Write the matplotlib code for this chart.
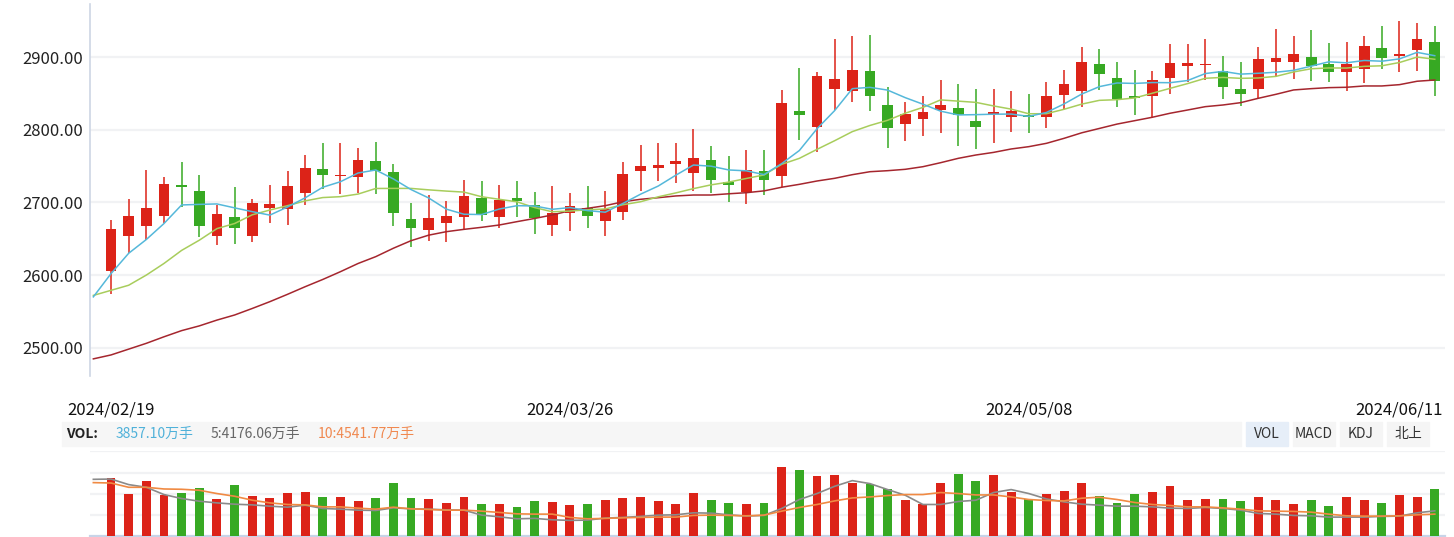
import matplotlib
matplotlib.use("Agg")
import matplotlib.pyplot as plt
from matplotlib.patches import Rectangle
from matplotlib.transforms import blended_transform_factory
import numpy as np

plt.rcParams['font.family'] = ['Noto Sans CJK SC', 'DejaVu Sans']

# daily candles, 2024/02/19 .. 2024/06/11
opens = [2606, 2654, 2667, 2681, 2724, 2716, 2654, 2680, 2654, 2693, 2691, 2713, 2746, 2736, 2735,
         2757, 2742, 2677, 2662, 2672, 2680, 2706, 2680, 2706, 2697, 2669, 2686, 2692, 2675, 2687,
         2744, 2748, 2753, 2741, 2758, 2728, 2714, 2743, 2737, 2826, 2804, 2857, 2854, 2881, 2834,
         2808, 2815, 2828, 2830, 2812, 2822, 2818, 2821, 2818, 2848, 2853, 2891, 2871, 2847, 2846,
         2872, 2888, 2890, 2881, 2856, 2857, 2894, 2894, 2900, 2891, 2880, 2884, 2913, 2902, 2910, 2921]
highs = [2676, 2705, 2745, 2735, 2756, 2738, 2697, 2721, 2705, 2724, 2743, 2765, 2782, 2782, 2775,
         2783, 2753, 2699, 2710, 2702, 2731, 2730, 2724, 2730, 2714, 2723, 2713, 2723, 2716, 2756,
         2779, 2782, 2782, 2801, 2778, 2764, 2772, 2772, 2855, 2885, 2880, 2925, 2929, 2931, 2859,
         2838, 2847, 2869, 2863, 2856, 2856, 2854, 2849, 2866, 2882, 2914, 2911, 2893, 2882, 2881,
         2918, 2918, 2925, 2902, 2893, 2914, 2939, 2929, 2938, 2920, 2921, 2929, 2943, 2950, 2947, 2943]
lows = [2574, 2630, 2648, 2672, 2694, 2653, 2641, 2643, 2645, 2672, 2669, 2697, 2718, 2712, 2713,
        2712, 2668, 2639, 2647, 2645, 2664, 2675, 2665, 2680, 2656, 2654, 2661, 2665, 2654, 2676,
        2716, 2729, 2727, 2716, 2713, 2700, 2698, 2711, 2721, 2786, 2770, 2828, 2839, 2826, 2775,
        2785, 2792, 2796, 2778, 2773, 2782, 2797, 2796, 2803, 2829, 2831, 2855, 2832, 2820, 2817,
        2850, 2866, 2869, 2843, 2833, 2844, 2873, 2870, 2868, 2866, 2853, 2864, 2884, 2880, 2881, 2846]
closes = [2663, 2681, 2692, 2725, 2722, 2667, 2684, 2665, 2699, 2698, 2723, 2747, 2738, 2737, 2758,
          2744, 2685, 2665, 2679, 2681, 2709, 2683, 2703, 2702, 2679, 2686, 2695, 2682, 2691, 2739,
          2750, 2751, 2757, 2761, 2731, 2724, 2745, 2731, 2837, 2821, 2874, 2870, 2882, 2846, 2802,
          2822, 2825, 2834, 2820, 2804, 2825, 2826, 2818, 2847, 2863, 2893, 2877, 2843, 2844, 2869,
          2892, 2892, 2891, 2859, 2850, 2898, 2899, 2904, 2888, 2880, 2891, 2915, 2899, 2904, 2925, 2868]

# average lines start one session before the first candle
ma5 = [2570, 2602, 2630, 2649, 2671,
       2696.6, 2697.4, 2698.0, 2692.6, 2687.4, 2682.6, 2693.8, 2706.4, 2721.0, 2728.6,
       2740.6, 2744.8, 2732.4, 2717.8, 2706.2, 2690.8, 2683.8, 2683.4, 2691.0, 2695.6,
       2695.2, 2690.6, 2693.0, 2688.8, 2686.6, 2698.6, 2711.4, 2722.6, 2737.6, 2751.6,
       2750.0, 2744.8, 2743.6, 2738.4, 2753.6, 2771.6, 2801.6, 2826.6, 2856.8, 2858.6,
       2854.8, 2844.4, 2835.4, 2825.8, 2820.6, 2821.0, 2821.6, 2821.8, 2818.6, 2824.0,
       2835.8, 2849.4, 2859.6, 2864.6, 2864.0, 2865.2, 2865.0, 2868.0, 2877.6, 2880.6,
       2876.8, 2878.0, 2879.4, 2882.0, 2887.8, 2893.8, 2892.4, 2895.6, 2894.6, 2897.8,
       2906.8, 2902.2]
ma10 = [2572, 2579, 2586, 2600, 2616, 2634, 2648, 2664, 2671, 2683,
        2689.6, 2695.6, 2702.2, 2706.8, 2708.0, 2711.6, 2719.3, 2719.4, 2719.4, 2717.4,
        2715.7, 2714.3, 2707.9, 2704.4, 2700.9, 2693.0, 2687.2, 2688.2, 2689.9, 2691.1,
        2696.9, 2701.0, 2707.8, 2713.2, 2719.1, 2724.3, 2728.1, 2733.1, 2738.0, 2752.6,
        2760.8, 2773.2, 2785.1, 2797.6, 2806.1, 2813.2, 2823.0, 2831.0, 2841.3, 2839.6,
        2837.9, 2833.0, 2828.6, 2822.2, 2822.3, 2828.4, 2835.5, 2840.7, 2841.6, 2844.0,
        2850.5, 2857.2, 2863.8, 2871.1, 2872.3, 2871.0, 2871.5, 2873.7, 2879.8, 2884.2,
        2885.3, 2885.2, 2887.5, 2888.3, 2892.8, 2900.3, 2897.3]
ma_long = [2484.6, 2490, 2498, 2506, 2515, 2523.5, 2530, 2538, 2545, 2554, 2563.4, 2573.5, 2584,
           2594, 2604.7, 2616, 2625.4, 2637, 2647.4, 2655, 2659.8, 2663, 2665.8, 2669, 2673.6,
           2678, 2682.8, 2688.7, 2692, 2695.6, 2701, 2704.4, 2706.6, 2709, 2710.3, 2710.3, 2712,
           2713.5, 2716, 2721, 2725, 2729.6, 2733.3, 2738.3, 2742.4, 2743.8, 2745.7, 2749.3,
           2754.8, 2760.8, 2765.4, 2769, 2773.7, 2776.9, 2781.5, 2788.4, 2796, 2802, 2808,
           2812.7, 2817.4, 2822.9, 2827.4, 2832, 2834.3, 2837.5, 2843.5, 2849, 2855, 2856.8,
           2858.2, 2858.7, 2860.5, 2860.5, 2862.3, 2867, 2868.7]

# volume (relative units)
volume = [58, 42.3, 55, 41, 43, 48, 37, 51, 40, 38, 43, 44, 39, 39, 35, 38, 53, 38, 37, 33, 39, 32, 32, 29, 35,
          34, 31, 32, 36, 38, 39, 35, 32, 43, 36, 33, 32, 33, 69, 66, 60, 61, 53, 52, 47, 36, 32, 53, 62, 55, 61,
          44, 37, 42, 45, 53, 40, 33, 42, 44, 50, 36, 37, 37, 35, 39, 36, 32, 36, 30, 39, 36, 33, 41, 39, 47]
vol_ma5 = [57, 57.3, 51.7, 49, 41.7, 37.7, 35, 33.3, 32, 31.3, 30, 29, 31, 27.7, 27, 26, 25.7, 28.3, 27.3,
           27, 26.3, 26, 21, 19.3, 17.3, 17.7,
           16.3, 15.7, 16, 18, 18.7, 19.7, 21, 21.3, 23.3, 23, 21.3, 20, 20.7, 27.7, 36.7, 42.7, 50,
           55.7, 52.7, 46.7, 41, 31.7, 31.7, 34.7, 36, 43.7,
           46.7, 42.7, 37.3, 34.3, 32, 31, 30, 30, 29.3, 28, 27.7, 28.7, 27.7, 26, 22.7, 22, 20.7,
           20.3, 19, 19, 19, 19.7, 20, 23.3, 25.3]
vol_ma10 = [53.7, 53.3, 49, 49, 47.3, 47, 46, 42.7, 40, 36, 33.3, 31.7, 31.3, 29.3, 29.3, 28, 27, 29,
            27.3, 26.7, 26, 26, 25, 23.7, 22.3, 22,
            22, 18.7, 17.3, 17.7, 18.3, 18.7, 19, 19, 20.7, 21, 20.7, 20.3, 21, 25, 28.7, 31.7, 35.3,
            38.3, 39.3, 40.7, 41.7, 41.7, 43.7, 42.7, 41.3, 41.3,
            39.3, 36.7, 35.7, 35.3, 38, 39, 36.7, 33.7, 31.7, 30.7, 29.3, 29.3, 28.3, 27, 25.3, 25,
            24.7, 24, 22, 20.3, 20, 20, 20.3, 21.3, 22]

date_labels = ["2024/02/19", "2024/03/26", "2024/05/08", "2024/06/11"]
date_pos = [0, 26, 52]
price_ticks = [2500, 2600, 2700, 2800, 2900]

RED = "#dc2318"
GREEN = "#37a923"

W, H = 1454, 537
fig = plt.figure(figsize=(W / 100, H / 100), dpi=100)


def px(x0, y0, x1, y1):
    # pixel box -> figure rect
    return [x0 / W, 1 - y1 / H, (x1 - x0) / W, (y1 - y0) / H]


ax = fig.add_axes(px(90, 4, 1445, 376))
axv = fig.add_axes(px(90, 451, 1445, 536))

n = len(closes)
x = np.arange(n)
xl = np.arange(-1, n)
o = np.array(opens)
c = np.array(closes)
colors = [RED if cc >= oo else GREEN for oo, cc in zip(opens, closes)]

ax.vlines(x, lows, highs, colors=colors, linewidth=1.1, zorder=3)
body_h = np.maximum(np.abs(c - o), 1.3)
ax.bar(x, body_h, bottom=np.minimum(o, c), width=0.61, color=colors, zorder=4)
ax.plot(xl, ma_long, color="#a5262e", lw=1.1, zorder=5)
ax.plot(xl, ma10, color="#a8cd5c", lw=1.1, zorder=5)
ax.plot(xl, ma5, color="#55b8da", lw=1.1, zorder=5)

ax.set_xlim(-1.19, 75.58)
ax.set_ylim(2461, 2973.4)
ax.set_yticks(price_ticks)
ax.set_yticklabels([f"{t:.2f}" for t in price_ticks], fontsize=12, color="#222222")
ax.tick_params(axis="y", length=0, pad=5)
ax.set_xticks([])
ax.grid(axis="y", color="#f1f2f4", lw=1.6, zorder=0)
ax.set_axisbelow(True)
for s in ["top", "right", "bottom"]:
    ax.spines[s].set_visible(False)
ax.spines["left"].set_color("#cdd6e4")
ax.spines["left"].set_linewidth(1.2)

# date labels under the price panel
tr = blended_transform_factory(ax.transData, fig.transFigure)
for i, lab in zip(date_pos, date_labels[:3]):
    ax.text(i, 1 - 410 / H, lab, transform=tr, ha="center", va="center",
            fontsize=12, color="#111111")
fig.text(1443 / W, 1 - 410 / H, date_labels[3], ha="right", va="center",
         fontsize=12, color="#111111")

# volume panel
axv.bar(x, volume, width=0.5, color=colors, zorder=3)
axv.plot(xl, vol_ma5, color="#8a8a8a", lw=1.2, zorder=4)
axv.plot(xl, vol_ma10, color="#f08a43", lw=1.2, zorder=4)
axv.set_xlim(-1.19, 75.58)
axv.set_ylim(0, 85.5)
axv.set_yticks([21.25, 42.5, 63.75, 85])
axv.set_xticks([])
axv.tick_params(axis="y", length=0, labelleft=False)
axv.grid(axis="y", color="#f1f2f4", lw=1.6, zorder=0)
axv.set_axisbelow(True)
for s in ["top", "right", "left"]:
    axv.spines[s].set_visible(False)
axv.spines["bottom"].set_color("#c8d4e8")
axv.spines["bottom"].set_linewidth(1.6)

# indicator bar
fig.patches.append(Rectangle((62 / W, 1 - 446 / H), (1241 - 62) / W, 24 / H,
                             transform=fig.transFigure, color="#f6f6f6", zorder=0))
yc = 1 - 434 / H
fig.text(66 / W, yc, "VOL:", fontsize=10, fontweight="bold", color="#222222", va="center")
fig.text(116 / W, yc, "3857.10万手", fontsize=10, color="#4fb1d9", va="center")
fig.text(211 / W, yc, "5:4176.06万手", fontsize=10, color="#666666", va="center")
fig.text(318 / W, yc, "10:4541.77万手", fontsize=10, color="#f0884f", va="center")

buttons = [("VOL", 1246, 1288, "#e6eef8"), ("MACD", 1293, 1335, "#f5f5f5"),
           ("KDJ", 1340, 1382, "#f5f5f5"), ("北上", 1387, 1429, "#f5f5f5")]
for lab, bx0, bx1, bg in buttons:
    fig.patches.append(Rectangle((bx0 / W, 1 - 446 / H), (bx1 - bx0) / W, 24 / H,
                                 transform=fig.transFigure, color=bg, zorder=0))
    fig.text((bx0 + bx1) / 2 / W, yc, lab, fontsize=10, color="#333333",
             ha="center", va="center")

fig.savefig("out.png", dpi=100)
